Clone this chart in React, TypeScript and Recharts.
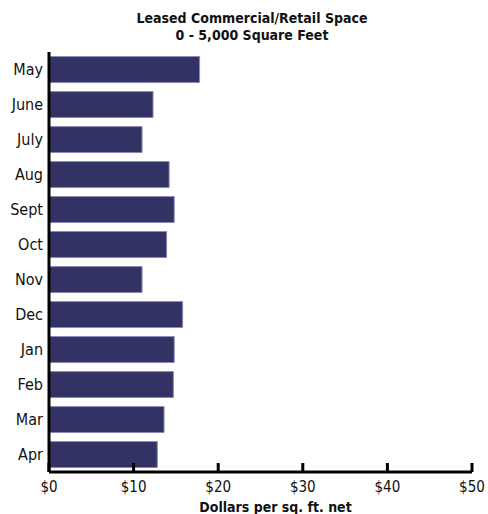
import { BarChart, Bar, XAxis, YAxis } from 'recharts'

const months = ['May', 'June', 'July', 'Aug', 'Sept', 'Oct', 'Nov', 'Dec', 'Jan', 'Feb', 'Mar', 'Apr']
const dollars = [17.8, 12.3, 11.0, 14.2, 14.8, 13.9, 11.0, 15.8, 14.8, 14.7, 13.6, 12.8]
const xTicks = [0, 10, 20, 30, 40, 50]

const data = months.map((m, i) => ({ month: m, value: dollars[i] }))

const font = "'Liberation Sans Narrow', 'DejaVu Sans Condensed', Roboto, sans-serif"

if (typeof document !== 'undefined') document.body.style.margin = '0'

function XTick({ x, y, payload }: any) {
  return (
    <g>
      <line x1={x} x2={x} y1={y - 9} y2={y} stroke="#000" strokeWidth={3} />
      <text x={x} y={y + 20} textAnchor="middle" fontSize={15} fill="#111" fontFamily={font}>
        ${payload.value}
      </text>
    </g>
  )
}

export default function App() {
  return (
    <div style={{ position: 'relative', width: 488, height: 514, background: '#fff', overflow: 'hidden' }}>
      <div
        style={{
          position: 'absolute',
          top: 10,
          left: 0,
          width: 504,
          textAlign: 'center',
          fontFamily: font,
          fontWeight: 'bold',
          fontSize: 14,
          lineHeight: '17px',
          color: '#111',
        }}
      >
        Leased Commercial/Retail Space
        <br />
        0 - 5,000 Square Feet
      </div>
      <BarChart
        width={488}
        height={514}
        data={data}
        layout="vertical"
        margin={{ top: 52, right: 16, bottom: 12, left: 0 }}
        barCategoryGap="13%"
      >
        <XAxis
          type="number"
          domain={[0, 50]}
          ticks={xTicks}
          height={30}
          tickSize={0}
          tickMargin={0}
          tickLine={false}
          axisLine={{ stroke: '#000', strokeWidth: 3 }}
          tick={<XTick />}
          interval={0}
          label={{
            value: 'Dollars per sq. ft. net',
            position: 'insideBottom',
            offset: -10,
            dx: 15,
            style: { fontFamily: font, fontWeight: 'bold', fontSize: 14, fill: '#111' },
          }}
        />
        <YAxis
          type="category"
          dataKey="month"
          width={49}
          tickSize={0}
          tickLine={false}
          tickMargin={6}
          axisLine={{ stroke: '#000', strokeWidth: 3 }}
          tick={{ fontSize: 16, fill: '#111', fontFamily: font }}
          interval={0}
        />
        <Bar dataKey="value" fill="#323264" stroke="#8c8cb4" strokeWidth={1} isAnimationActive={false} />
      </BarChart>
    </div>
  )
}
